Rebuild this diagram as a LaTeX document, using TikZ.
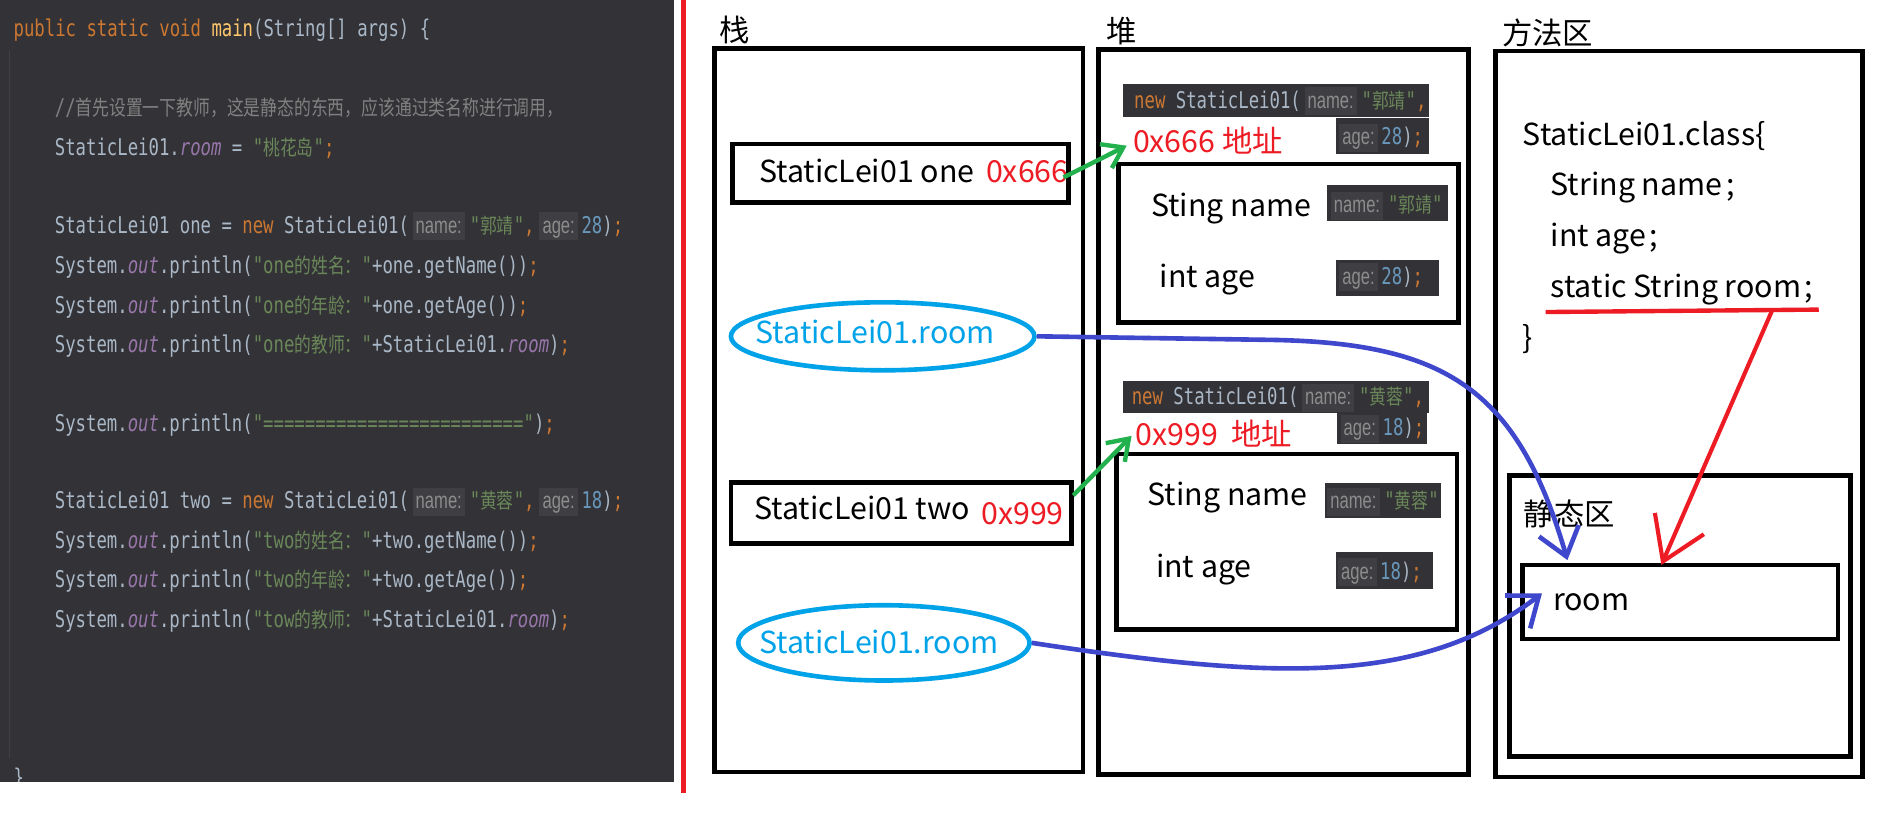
\documentclass[tikz,border=0pt]{standalone}
\usepackage{fontspec}
\usetikzlibrary{arrows.meta,shapes.geometric,calc}
\setmainfont{Noto Sans CJK SC}
\newfontfamily\codefont[Ligatures=TeXOff,FakeStretch=0.75,ItalicFont={DejaVu Sans Mono Oblique}]{DejaVu Sans Mono}
\newfontfamily\cjkcode[Ligatures=TeXOff,FakeStretch=0.81,Scale=0.9]{Noto Sans CJK SC}
\newfontfamily\hintfont[Ligatures=TeXOff,FakeStretch=0.72]{Liberation Sans}
\definecolor{codebg}{HTML}{333236}
\definecolor{plainc}{HTML}{A9B7C6}
\definecolor{kwc}{HTML}{CC7832}
\definecolor{strc}{HTML}{6A8759}
\definecolor{fldc}{HTML}{9876AA}
\definecolor{numc}{HTML}{6897BB}
\definecolor{fnc}{HTML}{FFC66D}
\definecolor{cmtc}{HTML}{808080}
\definecolor{hintbg}{HTML}{3F3F43}
\definecolor{hintfg}{HTML}{8C8C8C}
\definecolor{guidec}{HTML}{404046}
\definecolor{pred}{HTML}{ED1C24}
\definecolor{pgreen}{HTML}{22B14C}
\definecolor{pblue}{HTML}{3F48CC}
\definecolor{pcyan}{HTML}{00A2E8}
\newcommand\KW[1]{\textcolor{kwc}{#1}}
\newcommand\STR[1]{\textcolor{strc}{#1}}
\newcommand\FLD[1]{\textcolor{fldc}{\itshape #1}}
\newcommand\NUM[1]{\textcolor{numc}{#1}}
\newcommand\FN[1]{\textcolor{fnc}{#1}}
\newcommand\ZH[1]{{\cjkcode #1}}
\newcommand\HINT[1]{{\setlength\fboxsep{0pt}\colorbox{hintbg}{\kern2.5pt\vrule width0pt height17pt depth6pt\hintfont\textcolor{hintfg}{#1}\kern2.5pt}}}
\begin{document}
\begin{tikzpicture}[x=1pt,y=-1pt,
  box/.style={draw=black, line width=3.8pt, inner sep=0pt, outer sep=0pt, anchor=north west},
  snip/.style={fill=codebg, inner sep=0pt, outer sep=0pt, anchor=north west},
  code/.style={anchor=base west, inner sep=0pt, text=plainc, font=\codefont\fontsize{19}{22}\selectfont},
  lbl/.style={anchor=base west, inner sep=0pt, font=\fontsize{25}{29}\selectfont},
  oval/.style={ellipse, draw=pcyan, line width=3.8pt, inner sep=0pt},
  barrow/.style={draw=pblue, line width=3.8pt, -{Straight Barb[length=22pt,width=34pt]}},
  rarrow/.style={draw=pred, line width=3.4pt, -{Straight Barb[length=34pt,width=44pt]}},
  garrow/.style={draw=pgreen, line width=3.6pt, -{Straight Barb[length=16pt,width=22pt]}},
  pline/.style={line width=3.4pt}
]
\useasboundingbox (0,0) rectangle (1560,686);
\fill[white] (0,0) rectangle (1560,686);

% ---------- code panel ----------
\node[fill=codebg, inner sep=0pt, outer sep=0pt, anchor=north west, minimum width=555pt, minimum height=644pt] (panel) at (0,0) {};
\coordinate (gtop) at (8,42);
\coordinate (gbot) at (8,624);
\draw[guidec, line width=1pt] (gtop) -- (gbot);
\node[code] (c1) at (11,30) {\KW{public static void} \FN{main}(String[] args) \{};
\node[code] (c2) at (45,95) {\textcolor{cmtc}{//\ZH{首先设置一下教师，这是静态的东西，应该通过类名称进行调用，}}};
\node[code] (c3) at (45,128) {StaticLei01.\FLD{room} = \STR{"\ZH{桃花岛}"}\KW{;}};
\node[code] (c4) at (45,192) {StaticLei01 one = \KW{new} StaticLei01(\kern3pt\HINT{name:}\kern4pt\STR{"\ZH{郭靖}"}\KW{,}\kern4pt\HINT{age:}\kern3pt\NUM{28})\KW{;}};
\node[code] (c5) at (45,225) {System.\FLD{out}.println(\STR{"one\ZH{的姓名：}"}+one.getName())\KW{;}};
\node[code] (c6) at (45,258) {System.\FLD{out}.println(\STR{"one\ZH{的年龄：}"}+one.getAge())\KW{;}};
\node[code] (c7) at (45,290) {System.\FLD{out}.println(\STR{"one\ZH{的教师：}"}+StaticLei01.\FLD{room})\KW{;}};
\node[code] (c8) at (45,355) {System.\FLD{out}.println(\STR{"========================="})\KW{;}};
\node[code] (c9) at (45,419) {StaticLei01 two = \KW{new} StaticLei01(\kern3pt\HINT{name:}\kern4pt\STR{"\ZH{黄蓉}"}\KW{,}\kern4pt\HINT{age:}\kern3pt\NUM{18})\KW{;}};
\node[code] (c10) at (45,452) {System.\FLD{out}.println(\STR{"two\ZH{的姓名：}"}+two.getName())\KW{;}};
\node[code] (c11) at (45,484) {System.\FLD{out}.println(\STR{"two\ZH{的年龄：}"}+two.getAge())\KW{;}};
\node[code] (c12) at (45,517) {System.\FLD{out}.println(\STR{"tow\ZH{的教师：}"}+StaticLei01.\FLD{room})\KW{;}};
\begin{scope}
\clip (0,0) rectangle (555,644);
\node[code] (c13) at (11,647) {\}};
\end{scope}

% ---------- red divider ----------
\coordinate (rdtop) at (563,0);
\coordinate (rdbot) at (563,653);
\draw[pred, pline] (rdtop) -- (rdbot);

% ---------- big boxes ----------
\node[box, minimum width=303.5pt, minimum height=596pt] (stack) at (588.5,40) {};
\node[box, minimum width=304.5pt, minimum height=597pt] (heap) at (905,41) {};
\node[box, minimum width=302pt, minimum height=598pt] (method) at (1232,42) {};
\node[lbl] (zhan) at (592,34) {栈};
\node[lbl] (dui) at (911,35) {堆};
\node[lbl] (ffq) at (1237,37) {方法区};

% ---------- stack ----------
\node[box, minimum width=276.5pt, minimum height=48.3pt] (onebox) at (603.5,118.5) {};
\node[lbl] (onet) at (625,150) {StaticLei01 one};
\node[lbl, text=pred] (addr1) at (812,150) {0x666};
\node[box, minimum width=280.6pt, minimum height=50pt] (twobox) at (602,397.4) {};
\node[lbl] (twot) at (621,428) {StaticLei01 two};
\node[lbl, text=pred] (addr2) at (808,432) {0x999};
\node[oval, minimum width=250pt, minimum height=56pt] (e1) at (727,277) {};
\node[lbl, text=pcyan] (e1t) at (622,283) {StaticLei01.room};
\node[oval, minimum width=240pt, minimum height=62pt] (e2) at (728,529.5) {};
\node[lbl, text=pcyan] (e2t) at (625,538) {StaticLei01.room};

% ---------- heap object one ----------
\node[snip, minimum width=252pt, minimum height=27pt] (s1) at (925,69) {};
\node[code] (s1t) at (934,89) {\KW{new} StaticLei01(\kern3pt\HINT{name:}\kern4pt\STR{"\ZH{郭靖}"}\KW{,}};
\node[snip, minimum width=77pt, minimum height=30pt] (s1b) at (1100,97) {};
\node[code] (s1bt) at (1103,119) {\HINT{age:}\kern3pt\NUM{28})\KW{;}};
\node[lbl, text=pred] (h1addr) at (933,126) {0x666 地址};
\node[box, minimum width=280.5pt, minimum height=130.6pt] (obj1) at (921,135) {};
\node[lbl] (n1) at (948,178) {Sting name};
\node[snip, minimum width=100pt, minimum height=30pt] (s2) at (1093,152) {};
\node[code] (s2t) at (1096,175) {\HINT{name:}\kern4pt\STR{"\ZH{郭靖}"}};
\node[lbl] (a1) at (955,237) {int age};
\node[snip, minimum width=85pt, minimum height=30pt] (s3) at (1100,214) {};
\node[code] (s3t) at (1103,234) {\HINT{age:}\kern3pt\NUM{28})\KW{;}};

% ---------- heap object two ----------
\node[snip, minimum width=252pt, minimum height=26pt] (s4) at (925,314) {};
\node[code] (s4t) at (932,333) {\KW{new} StaticLei01(\kern3pt\HINT{name:}\kern4pt\STR{"\ZH{黄蓉}"}\KW{,}};
\node[snip, minimum width=74pt, minimum height=26pt] (s4b) at (1101,340) {};
\node[code] (s4bt) at (1104,359) {\HINT{age:}\kern3pt\NUM{18})\KW{;}};
\node[lbl, text=pred] (h2addr) at (935,367) {0x999\ \ 地址};
\node[box, minimum width=280.5pt, minimum height=144.6pt] (obj2) at (919.5,374) {};
\node[lbl] (n2) at (945,416) {Sting name};
\node[snip, minimum width=96pt, minimum height=29pt] (s5) at (1091,398) {};
\node[code] (s5t) at (1093,419) {\HINT{name:}\kern4pt\STR{"\ZH{黄蓉}"}};
\node[lbl] (a2) at (952,476) {int age};
\node[snip, minimum width=80pt, minimum height=30pt] (s6) at (1100,455) {};
\node[code] (s6t) at (1102,477) {\HINT{age:}\kern3pt\NUM{18})\KW{;}};

% ---------- method area ----------
\node[lbl] (m1) at (1254,120) {StaticLei01.class\{};
\node[lbl] (m2) at (1277,161) {String name\kern3pt;};
\node[lbl] (m3) at (1277,203) {int age\kern3pt;};
\node[lbl] (m4) at (1277,245) {static String room\kern3pt;};
\node[lbl] (m5) at (1254,287) {\}};
\coordinate (ulA) at (1273,257);
\coordinate (ulB) at (1498,255);
\coordinate (ulC) at ($(ulA)!0.83!(ulB)$);
\draw[pred, line width=3.6pt] (ulA) -- (ulB);
\node[box, minimum width=280.5pt, minimum height=231.5pt] (static) at (1243.5,391.5) {};
\node[lbl] (jtq) at (1255,433) {静态区};
\node[box, minimum width=260pt, minimum height=61pt] (room) at (1254,465.3) {};
\node[lbl] (roomt) at (1279,503) {room};

% ---------- connectors ----------
\coordinate (g1s) at ($(onebox.east)+(-4,3.4)$);
\coordinate (g1e) at ($(h1addr.base west)+(-5,-6)$);
\draw[garrow] (g1s) -- (g1e);
\coordinate (g2s) at ($(twobox.north east)+(1.4,10.6)$);
\coordinate (g2e) at ($(h2addr.base west)+(-3,-8)$);
\draw[garrow] (g2s) -- (g2e);
\coordinate (tipA) at ($(room.north west)+(37,-4)$);
\coordinate (tipB) at ($(room.west)+(16,-7)$);
\coordinate (tipR) at ($(room.north west)!0.44!(room.north east)$);
\draw[barrow] (e1.east) -- (1050,280) .. controls (1190,283) and (1250,320) .. (tipA);
\draw[barrow] (e2.east) .. controls (1050,560) and (1170,565) .. (tipB);
\draw[rarrow] (ulC) -- (tipR);
\end{tikzpicture}
\end{document}
